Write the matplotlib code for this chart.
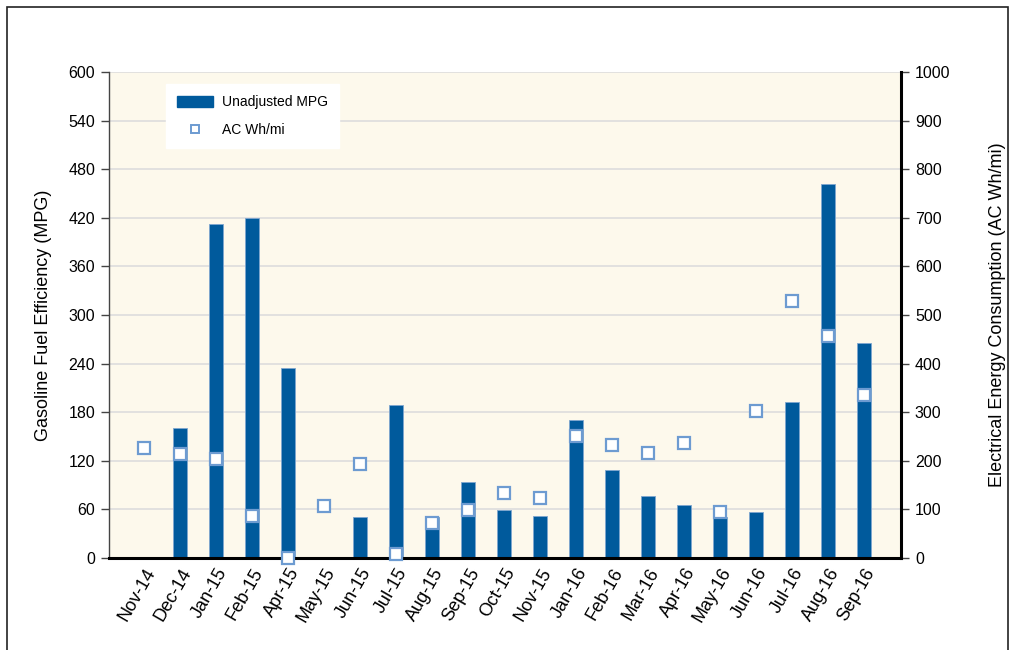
import matplotlib.pyplot as plt
from matplotlib.patches import Rectangle, Patch
from matplotlib.lines import Line2D

plt.rcParams['font.family'] = ['Liberation Sans', 'DejaVu Sans']

months = ["Nov-14", "Dec-14", "Jan-15", "Feb-15", "Apr-15", "May-15", "Jun-15",
          "Jul-15", "Aug-15", "Sep-15", "Oct-15", "Nov-15", "Jan-16", "Feb-16",
          "Mar-16", "Apr-16", "May-16", "Jun-16", "Jul-16", "Aug-16", "Sep-16"]
mpg = [0, 160, 412, 420, 234, 0, 51, 189, 51, 94, 59, 52, 170, 109,
       76, 66, 51, 57, 193, 462, 265]
ac_whmi = [227, 214, 204, 86, 0, 107, 193, 8, 73, 99, 133, 123, 252, 232,
           216, 237, 94, 303, 529, 457, 336]

bar_color = '#005a9c'
marker_edge = '#6d9bd1'

fig = plt.figure(figsize=(10.14, 6.5), dpi=100)
# outer frame
fig.patches.append(Rectangle((7 / 1014, -0.1), 1001 / 1014, 1.1 - 7 / 650,
                             transform=fig.transFigure, fill=False,
                             edgecolor='#222222', linewidth=1.2))

ax = fig.add_axes([109 / 1014, 1 - 558 / 650, 792 / 1014, 486 / 650])
ax.set_facecolor('#fdf9ec')
x = list(range(len(months)))
ax.bar(x, mpg, width=0.4, color=bar_color, edgecolor='#7fa6cf', linewidth=0.6, zorder=2)
ax.set_xlim(-0.97, 21.03)
ax.set_ylim(0, 600)
ax.set_yticks(range(0, 601, 60))
ax.grid(axis='y', color='#dddddd', linewidth=1.2, zorder=0)
ax.set_axisbelow(True)
for s in ['top', 'right']:
    ax.spines[s].set_visible(False)
ax.spines['left'].set_color('#444444')
ax.spines['left'].set_linewidth(1)
ax.spines['bottom'].set_color('black')
ax.spines['bottom'].set_linewidth(2.2)
ax.tick_params(axis='y', direction='out', length=6, width=1, color='#444444',
               labelsize=11.5, pad=4)
ax.tick_params(axis='x', length=0, pad=5)
ax.set_xticks(x)
ax.set_xticklabels(months, rotation=60, ha='right', rotation_mode='anchor', fontsize=13)
ax.set_ylabel("Gasoline Fuel Efficiency (MPG)", fontsize=13, labelpad=12)

ax2 = ax.twinx()
ax2.plot(x, ac_whmi, linestyle='none', marker='s', markersize=8,
         markerfacecolor='white', markeredgecolor=marker_edge, markeredgewidth=1.6,
         clip_on=False, zorder=3)
ax2.set_ylim(0, 1000)
ax2.set_yticks(range(0, 1001, 100))
for s in ['top', 'left', 'bottom']:
    ax2.spines[s].set_visible(False)
ax2.spines['right'].set_color('black')
ax2.spines['right'].set_linewidth(2.2)
ax2.tick_params(axis='y', direction='out', length=6, width=1, color='#444444',
                labelsize=11.5, pad=4)
ax2.set_ylabel("Electrical Energy Consumption (AC Wh/mi)", fontsize=13, labelpad=28)

handles = [Patch(facecolor=bar_color, edgecolor=bar_color),
           Line2D([], [], linestyle='none', marker='s', markersize=6,
                  markerfacecolor='white', markeredgecolor=marker_edge, markeredgewidth=1.4)]
leg = ax2.legend(handles, ["Unadjusted MPG", "AC Wh/mi"], loc='upper left',
                 bbox_to_anchor=(0.072, 0.975), frameon=True, fancybox=False,
                 fontsize=10, handlelength=2.6, handleheight=0.8, handletextpad=0.6,
                 borderpad=0.8, labelspacing=1.0, borderaxespad=0)
leg.get_frame().set_facecolor('white')
leg.get_frame().set_edgecolor('white')
leg.get_frame().set_alpha(1)

fig.savefig("out.png", dpi=100)
